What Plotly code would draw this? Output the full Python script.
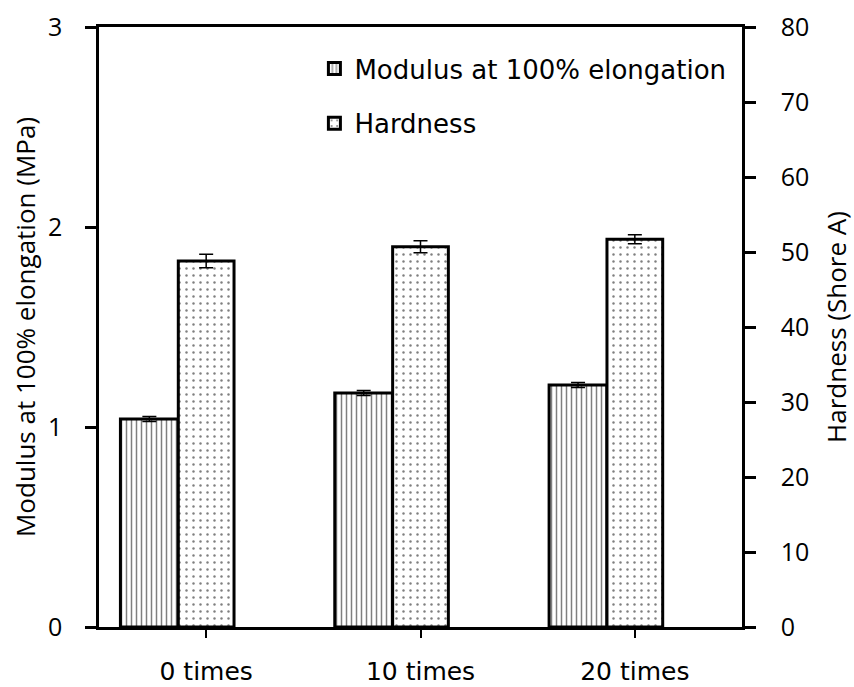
import plotly.graph_objects as go

# Number of cyclic treatments
categories = ["0 times", "10 times", "20 times"]

# Modulus at 100% elongation (MPa) and its standard deviation
modulus = [1.04, 1.17, 1.21]
modulus_err = [0.012, 0.012, 0.012]

# Hardness (Shore A) and its standard deviation
hardness = [48.8, 50.7, 51.7]
hardness_err = [0.9, 0.8, 0.6]

left_ticks = [0, 1, 2, 3]
right_ticks = [0, 10, 20, 30, 40, 50, 60, 70, 80]

TICK_FONT = dict(family="Open Sans", size=25, color="black")
TITLE_FONT = dict(family="Open Sans", size=26, color="black")
LABEL_FONT = dict(family="DejaVu Sans", size=25, color="black")
LEGEND_FONT = dict(family="DejaVu Sans", size=26, color="black")

fig = go.Figure()

fig.add_trace(go.Bar(
    x=categories, y=modulus, name="Modulus at 100% elongation",
    yaxis="y", width=0.27, offset=-0.40,
    marker=dict(color="white", line=dict(color="black", width=3),
                pattern=dict(shape="|", fgcolor="black", bgcolor="white",
                             size=5, solidity=0.3)),
    error_y=dict(type="data", array=modulus_err, color="black",
                 thickness=1.5, width=7),
    legendgroup="m",
))

fig.add_trace(go.Bar(
    x=categories, y=hardness, name="Hardness",
    yaxis="y2", width=0.26, offset=-0.13,
    marker=dict(color="white", line=dict(color="black", width=3),
                pattern=dict(shape=".", fgcolor="black", bgcolor="white",
                             size=7, solidity=0.1)),
    error_y=dict(type="data", array=hardness_err, color="black",
                 thickness=1.5, width=7),
    legendgroup="h",
))

fig.update_layout(
    width=854, height=687,
    margin=dict(l=99, r=112, t=27, b=60, autoexpand=False),
    paper_bgcolor="white", plot_bgcolor="white",
    barmode="overlay",
    showlegend=True,
    legend=dict(x=0.335, y=0.97, xanchor="left", yanchor="top",
                font=LEGEND_FONT, bgcolor="rgba(0,0,0,0)",
                traceorder="grouped", tracegroupgap=18),
    xaxis=dict(
        type="category", range=[-0.5, 2.5], automargin=False,
        showline=True, linecolor="black", linewidth=2.5, mirror=True,
        ticks="outside", ticklen=8, tickwidth=1.5, tickcolor="black",
        tickfont=LABEL_FONT, ticklabelstandoff=12,
        showgrid=False, zeroline=False,
    ),
    yaxis=dict(
        range=[0, 3], tickvals=left_ticks, automargin=False,
        title=dict(text="Modulus at 100% elongation (MPa)",
                   font=TITLE_FONT, standoff=5),
        showline=True, linecolor="black", linewidth=2.5,
        ticks="outside", ticklen=11, tickwidth=2.5, tickcolor="black",
        tickfont=TICK_FONT, ticklabelstandoff=18,
        showgrid=False, zeroline=False,
    ),
    yaxis2=dict(
        range=[0, 80], tickvals=right_ticks, overlaying="y", side="right",
        automargin=False,
        title=dict(text="Hardness (Shore A)",
                   font=TITLE_FONT, standoff=21),
        showline=True, linecolor="black", linewidth=2.5,
        ticks="outside", ticklen=11, tickwidth=2.5, tickcolor="black",
        tickfont=TICK_FONT, ticklabelstandoff=20,
        showgrid=False, zeroline=False,
    ),
)

fig.write_html("out.html")
